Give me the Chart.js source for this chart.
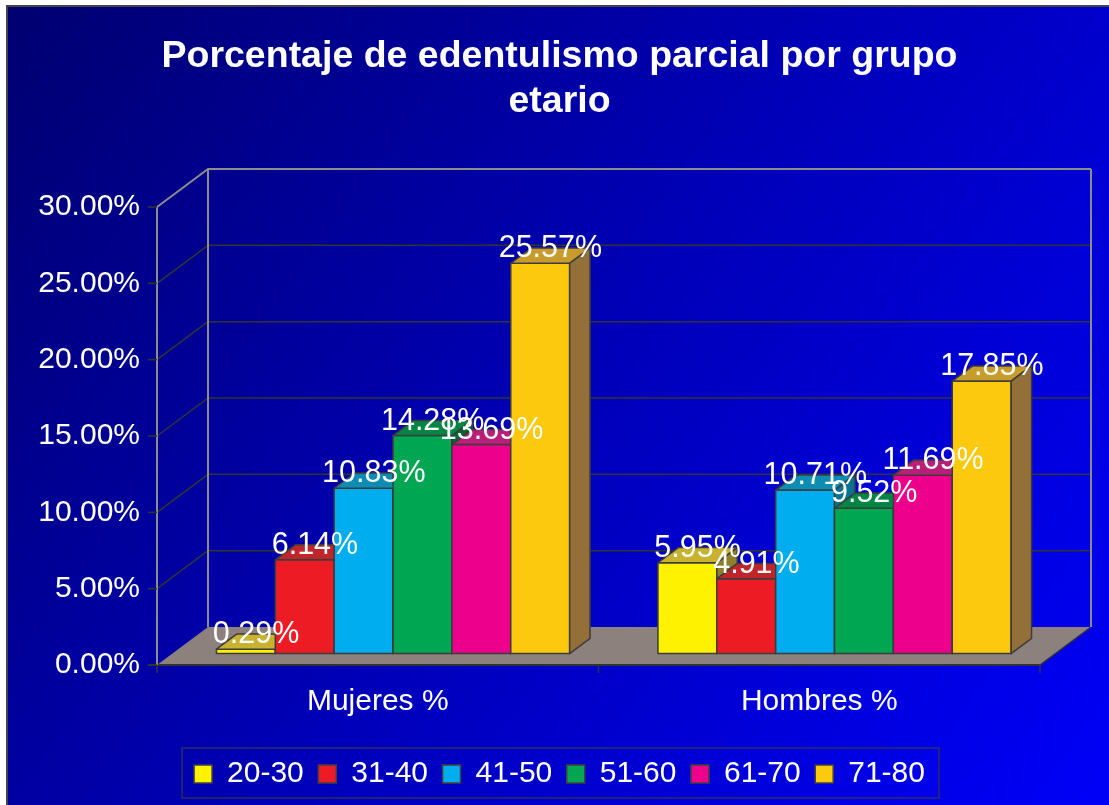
<!DOCTYPE html>
<html>
<head>
<meta charset="utf-8">
<title>Edentulismo parcial</title>
<script src="https://cdn.jsdelivr.net/npm/chart.js@4.4.1/dist/chart.umd.min.js"></script>
<style>
  html, body { margin: 0; padding: 0; background: #fff; overflow: hidden; }
  canvas { display: block; }
</style>
</head>
<body>
<canvas id="grafico" width="1109" height="805"></canvas>
<script>
  const grupos = ["Mujeres %", "Hombres %"];
  const edades = ["20-30", "31-40", "41-50", "51-60", "61-70", "71-80"];
  const mujeres = [0.29, 6.14, 10.83, 14.28, 13.69, 25.57];
  const hombres = [5.95, 4.91, 10.71, 9.52, 11.69, 17.85];
  const yMax = 30;
  const yPaso = 5;

  // colores: cara frontal, cara superior, lateral
  const colorFrente = ["#FFF200", "#ED1C24", "#00AEEF", "#00A651", "#EC008C", "#FDC90E"];
  const colorArriba = ["#C9B22F", "#BE262C", "#0E8DB4", "#038544", "#B81F79", "#C89C2C"];
  const colorLado   = ["#8E7F2C", "#8A1B20", "#0A7190", "#026634", "#8A155B", "#936F39"];

  // desplazamiento de profundidad (pared de fondo) y posicion de las barras en ella
  const DX = 51, DY = -38;
  const BARRA_FRENTE = 0.3, BARRA_FONDO = 0.4;

  const oscuro = "#333333";
  const marco = "#8c8c8c";

  Chart.defaults.font.family = '"Liberation Sans", Arial, sans-serif';

  function poligono(ctx, pts, relleno, trazo, grosor) {
    ctx.beginPath();
    ctx.moveTo(pts[0][0], pts[0][1]);
    for (let k = 1; k < pts.length; k++) ctx.lineTo(pts[k][0], pts[k][1]);
    ctx.closePath();
    if (relleno) { ctx.fillStyle = relleno; ctx.fill(); }
    if (trazo) { ctx.strokeStyle = trazo; ctx.lineWidth = grosor || 1; ctx.stroke(); }
  }

  function linea(ctx, x1, y1, x2, y2, color, grosor) {
    ctx.beginPath();
    ctx.moveTo(x1, y1);
    ctx.lineTo(x2, y2);
    ctx.strokeStyle = color;
    ctx.lineWidth = grosor;
    ctx.stroke();
  }

  // fondo, paredes, suelo y marcas de los ejes
  const paredes = {
    id: "paredes",
    beforeDraw(chart) {
      const { ctx, chartArea: a, scales: { x, y } } = chart;
      const W = chart.width, H = chart.height;
      ctx.save();
      ctx.fillStyle = "#fff";
      ctx.fillRect(0, 0, W, H);
      const g = ctx.createLinearGradient(7, 6, W, H);
      g.addColorStop(0, "#000070");
      g.addColorStop(0.5, "#0000b8");
      g.addColorStop(1, "#0000f8");
      ctx.fillStyle = g;
      ctx.fillRect(7, 6, W - 7, H - 6);
      ctx.beginPath();
      ctx.moveTo(7, H); ctx.lineTo(7, 6); ctx.lineTo(W, 6);
      ctx.strokeStyle = "#444"; ctx.lineWidth = 2; ctx.stroke();

      // lineas de division en pared izquierda y de fondo
      y.ticks.forEach(t => {
        const py = y.getPixelForValue(t.value);
        if (t.value === 0 || t.value === yMax) return;
        linea(ctx, a.left, py, a.left + DX, py + DY, oscuro, 1.5);
        linea(ctx, a.left + DX, py + DY, a.right + DX, py + DY, oscuro, 1.5);
      });

      // suelo
      poligono(ctx, [[a.left, a.bottom], [a.right, a.bottom], [a.right + DX, a.bottom + DY], [a.left + DX, a.bottom + DY]], "#8c817d");
      linea(ctx, a.left - 9, a.bottom, a.right, a.bottom, oscuro, 2);
      linea(ctx, a.right, a.bottom, a.right + DX, a.bottom + DY, oscuro, 1.5);

      // marco gris
      linea(ctx, a.left, a.top, a.left, a.bottom, marco, 2);
      linea(ctx, a.left + DX, a.top + DY, a.left + DX, a.bottom + DY, marco, 2);
      linea(ctx, a.right + DX, a.top + DY, a.right + DX, a.bottom + DY, marco, 2);
      ctx.beginPath();
      ctx.moveTo(a.left, a.top);
      ctx.lineTo(a.left + DX, a.top + DY);
      ctx.lineTo(a.right + DX, a.top + DY);
      ctx.strokeStyle = marco; ctx.lineWidth = 2; ctx.stroke();

      // marcas de eje
      y.ticks.forEach(t => {
        const py = y.getPixelForValue(t.value);
        linea(ctx, a.left - 9, py, a.left, py, oscuro, 1.5);
      });
      const paso = x.getPixelForValue(1) - x.getPixelForValue(0);
      for (let k = 0; k <= grupos.length; k++) {
        const px = x.getPixelForValue(0) - paso / 2 + k * paso;
        linea(ctx, px, a.bottom, px, a.bottom + 8, oscuro, 1.5);
      }
      ctx.restore();
    },
    afterDraw(chart) {
      // recuadro de la leyenda
      const cajas = chart.legend.legendHitBoxes;
      if (!cajas || !cajas.length) return;
      const ini = cajas[0], fin = cajas[cajas.length - 1];
      const ctx = chart.ctx;
      ctx.save();
      ctx.strokeStyle = "#2c2c60";
      ctx.lineWidth = 1.5;
      ctx.strokeRect(ini.left - 12, ini.top - 11, fin.left + fin.width + 14 - (ini.left - 12), 50);
      ctx.restore();
    }
  };

  // barras en 3D con sus etiquetas de valor
  const barras3d = {
    id: "barras3d",
    beforeDatasetsDraw(chart) {
      const ctx = chart.ctx;
      const fx = DX * BARRA_FRENTE, fy = DY * BARRA_FRENTE;
      const bx = DX * BARRA_FONDO, by = DY * BARRA_FONDO;
      const n = chart.data.datasets.length;
      ctx.save();
      ctx.lineJoin = "round";
      for (let i = 0; i < grupos.length; i++) {
        for (let j = 0; j < n; j++) {
          const el = chart.getDatasetMeta(j).data[i];
          const l = el.x - el.width / 2 + fx, r = el.x + el.width / 2 + fx;
          const t = el.y + fy, b = el.base + fy;
          poligono(ctx, [[l, t], [r, t], [r, b], [l, b]], colorFrente[j], "#3c3c3c", 1.5);
          poligono(ctx, [[l, t], [l + bx, t + by], [r + bx, t + by], [r, t]], colorArriba[j], "#3c3c3c", 1.5);
          poligono(ctx, [[r, t], [r + bx, t + by], [r + bx, b + by], [r, b]], colorLado[j], "#3c3c3c", 1.5);
        }
      }
      ctx.fillStyle = "#fff";
      ctx.font = '30.5px "Liberation Sans", Arial, sans-serif';
      ctx.textAlign = "center";
      ctx.textBaseline = "middle";
      for (let i = 0; i < grupos.length; i++) {
        for (let j = 0; j < n; j++) {
          const el = chart.getDatasetMeta(j).data[i];
          const v = chart.data.datasets[j].data[i];
          ctx.fillText(v.toFixed(2) + "%", el.x + fx + bx / 2, el.y + fy + by + 1);
        }
      }
      ctx.restore();
      return false;
    }
  };

  const datasets = edades.map((e, j) => ({
    label: e,
    data: [mujeres[j], hombres[j]],
    backgroundColor: colorFrente[j],
    borderColor: "#404040",
    borderWidth: 1.5
  }));

  new Chart(document.getElementById("grafico"), {
    type: "bar",
    data: { labels: grupos, datasets: datasets },
    options: {
      responsive: false,
      animation: false,
      events: [],
      categoryPercentage: 0.8,
      barPercentage: 1.0,
      layout: { padding: { left: 10, right: 0, top: 0, bottom: 6 } },
      plugins: {
        title: {
          display: true,
          text: ["Porcentaje de edentulismo parcial por grupo", "etario"],
          color: "#fff",
          font: { size: 37.5, weight: "bold", lineHeight: 1.2 },
          padding: { top: 34.5, bottom: 82.5 }
        },
        legend: {
          position: "bottom",
          labels: {
            color: "#fff",
            font: { size: 30 },
            boxWidth: 18,
            boxHeight: 18,
            padding: 14.5
          }
        },
        tooltip: { enabled: false }
      },
      scales: {
        x: {
          grid: { display: false, drawTicks: false },
          border: { display: false },
          ticks: { color: "#fff", font: { size: 30 }, padding: 19 },
          afterFit(s) { s.height = 79.5; }
        },
        y: {
          min: 0,
          max: yMax,
          grid: { display: false, drawTicks: false },
          border: { display: false },
          ticks: {
            stepSize: yPaso,
            color: "#fff",
            font: { size: 30 },
            padding: 17,
            callback: v => v.toFixed(2) + "%"
          },
          afterFit(s) { s.width = 147; }
        },
        derecha: {
          position: "right",
          grid: { display: false, drawTicks: false },
          border: { display: false },
          ticks: { display: false },
          afterFit(s) { s.width = 69; }
        }
      }
    },
    plugins: [paredes, barras3d]
  });
</script>
</body>
</html>
